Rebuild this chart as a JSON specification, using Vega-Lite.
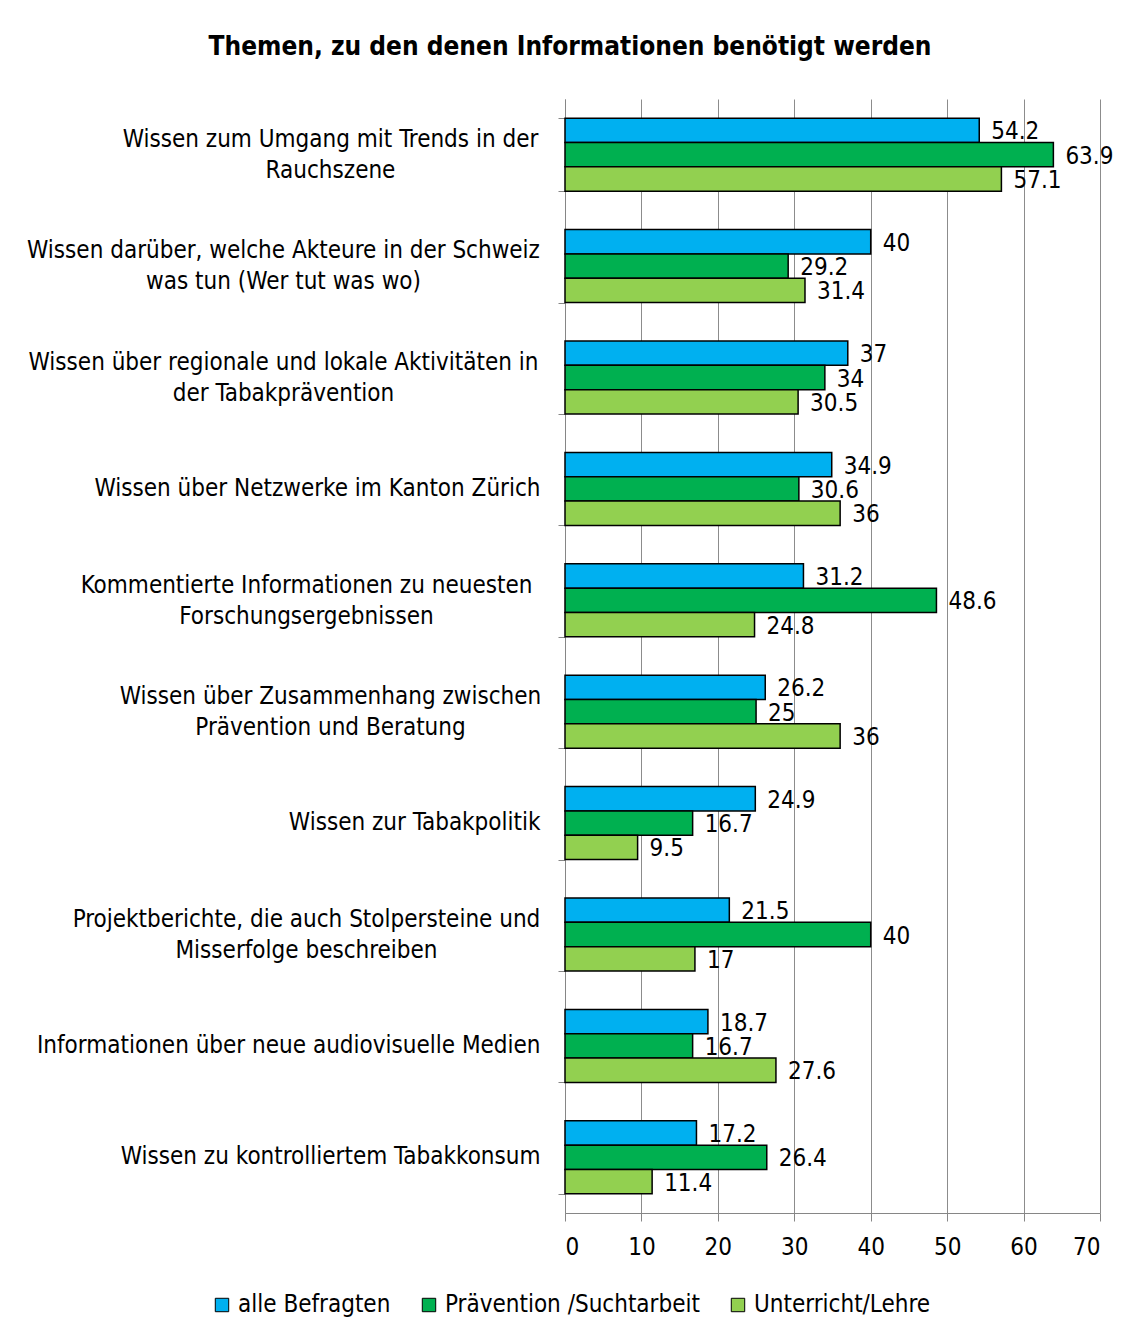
{
  "$schema": "https://vega.github.io/schema/vega-lite/v6.json",
  "autosize": {"type": "none"},
  "width": 535,
  "height": 1114,
  "padding": {"left": 565, "top": 99, "right": 39, "bottom": 124},
  "background": "white",
  "title": {
    "text": "Themen, zu den denen Informationen benötigt werden",
    "fontSize": 26,
    "fontWeight": "bold",
    "font": "DejaVu Sans Condensed",
    "color": "#000000",
    "anchor": "middle",
    "frame": "bounds",
    "offset": 27
  },
  "config": {
    "font": "DejaVu Sans Condensed",
    "view": {"stroke": null},
    "axisY": {
      "title": null,
      "labelFontSize": 24,
      "labelColor": "#000000",
      "labelLimit": 700,
      "labelLineHeight": 31,
      "labelBaseline": "middle",
      "grid": false
    }
  },
  "data": {
    "values": [
      {"cat": "Wissen zum Umgang mit Trends in der|Rauchszene", "series": "alle Befragten", "value": 54.2},
      {"cat": "Wissen zum Umgang mit Trends in der|Rauchszene", "series": "Prävention /Suchtarbeit", "value": 63.9},
      {"cat": "Wissen zum Umgang mit Trends in der|Rauchszene", "series": "Unterricht/Lehre", "value": 57.1},
      {"cat": "Wissen darüber, welche Akteure in der Schweiz|was tun (Wer tut was wo)", "series": "alle Befragten", "value": 40},
      {"cat": "Wissen darüber, welche Akteure in der Schweiz|was tun (Wer tut was wo)", "series": "Prävention /Suchtarbeit", "value": 29.2},
      {"cat": "Wissen darüber, welche Akteure in der Schweiz|was tun (Wer tut was wo)", "series": "Unterricht/Lehre", "value": 31.4},
      {"cat": "Wissen über regionale und lokale Aktivitäten in|der Tabakprävention", "series": "alle Befragten", "value": 37},
      {"cat": "Wissen über regionale und lokale Aktivitäten in|der Tabakprävention", "series": "Prävention /Suchtarbeit", "value": 34},
      {"cat": "Wissen über regionale und lokale Aktivitäten in|der Tabakprävention", "series": "Unterricht/Lehre", "value": 30.5},
      {"cat": "Wissen über Netzwerke im Kanton Zürich", "series": "alle Befragten", "value": 34.9},
      {"cat": "Wissen über Netzwerke im Kanton Zürich", "series": "Prävention /Suchtarbeit", "value": 30.6},
      {"cat": "Wissen über Netzwerke im Kanton Zürich", "series": "Unterricht/Lehre", "value": 36},
      {"cat": "Kommentierte Informationen zu neuesten|Forschungsergebnissen", "series": "alle Befragten", "value": 31.2},
      {"cat": "Kommentierte Informationen zu neuesten|Forschungsergebnissen", "series": "Prävention /Suchtarbeit", "value": 48.6},
      {"cat": "Kommentierte Informationen zu neuesten|Forschungsergebnissen", "series": "Unterricht/Lehre", "value": 24.8},
      {"cat": "Wissen über Zusammenhang zwischen|Prävention und Beratung", "series": "alle Befragten", "value": 26.2},
      {"cat": "Wissen über Zusammenhang zwischen|Prävention und Beratung", "series": "Prävention /Suchtarbeit", "value": 25},
      {"cat": "Wissen über Zusammenhang zwischen|Prävention und Beratung", "series": "Unterricht/Lehre", "value": 36},
      {"cat": "Wissen zur Tabakpolitik", "series": "alle Befragten", "value": 24.9},
      {"cat": "Wissen zur Tabakpolitik", "series": "Prävention /Suchtarbeit", "value": 16.7},
      {"cat": "Wissen zur Tabakpolitik", "series": "Unterricht/Lehre", "value": 9.5},
      {"cat": "Projektberichte, die auch Stolpersteine und|Misserfolge beschreiben", "series": "alle Befragten", "value": 21.5},
      {"cat": "Projektberichte, die auch Stolpersteine und|Misserfolge beschreiben", "series": "Prävention /Suchtarbeit", "value": 40},
      {"cat": "Projektberichte, die auch Stolpersteine und|Misserfolge beschreiben", "series": "Unterricht/Lehre", "value": 17},
      {"cat": "Informationen über neue audiovisuelle Medien", "series": "alle Befragten", "value": 18.7},
      {"cat": "Informationen über neue audiovisuelle Medien", "series": "Prävention /Suchtarbeit", "value": 16.7},
      {"cat": "Informationen über neue audiovisuelle Medien", "series": "Unterricht/Lehre", "value": 27.6},
      {"cat": "Wissen zu kontrolliertem Tabakkonsum", "series": "alle Befragten", "value": 17.2},
      {"cat": "Wissen zu kontrolliertem Tabakkonsum", "series": "Prävention /Suchtarbeit", "value": 26.4},
      {"cat": "Wissen zu kontrolliertem Tabakkonsum", "series": "Unterricht/Lehre", "value": 11.4}
    ]
  },
  "encoding": {
    "yOffset": {
      "field": "series",
      "type": "nominal",
      "sort": ["alle Befragten", "Prävention /Suchtarbeit", "Unterricht/Lehre"],
      "scale": {"domain": ["alle Befragten", "Prävention /Suchtarbeit", "Unterricht/Lehre"], "paddingInner": 0, "paddingOuter": 0}
    },
    "x": {
      "field": "value",
      "type": "quantitative",
      "scale": {"domain": [0, 70], "nice": false},
      "axis": {
        "title": null,
        "values": [0, 10, 20, 30, 40, 50, 60, 70],
        "labelFontSize": 24,
        "labelColor": "#000000",
        "labelPadding": 14,
        "tickSize": 8,
        "tickColor": "#868686",
        "domainColor": "#868686",
        "grid": true,
        "gridColor": "#8c8c8c",
        "gridWidth": 1
      }
    }
  },
  "resolve": {"axis": {"y": "independent"}},
  "layer": [
    {
      "mark": {"type": "bar", "stroke": "#000000", "strokeWidth": 1.5},
      "encoding": {
        "y": {
          "field": "cat",
          "type": "nominal",
          "sort": null,
          "scale": {"paddingInner": 0.345, "paddingOuter": 0.1725},
          "axis": {
            "orient": "left",
            "labelExpr": "indexof(datum.label, 'Forschungs') >= 0 || indexof(datum.label, 'Misserfolge') >= 0 ? split(datum.label, '|') : ''",
            "labelAlign": "center",
            "labelPadding": 252,
            "labelOffset": -15,
            "tickBand": "extent",
            "tickSize": 7,
            "tickColor": "#868686",
            "domainColor": "#868686"
          }
        },
        "color": {
          "field": "series",
          "type": "nominal",
          "sort": ["alle Befragten", "Prävention /Suchtarbeit", "Unterricht/Lehre"],
          "scale": {
            "domain": ["alle Befragten", "Prävention /Suchtarbeit", "Unterricht/Lehre"],
            "range": ["#00B0F0", "#00B050", "#92D050"]
          },
          "legend": {
            "title": null,
            "orient": "none",
            "direction": "horizontal",
            "legendX": -355,
            "legendY": 1194,
            "symbolType": "square",
            "symbolSize": 180,
            "symbolStrokeColor": "#000000",
            "symbolStrokeWidth": 1,
            "symbolOpacity": 1,
            "labelFontSize": 24,
            "labelColor": "#000000",
            "labelLimit": 400,
            "labelOffset": 4,
            "columnPadding": 26
          }
        }
      }
    },
    {
      "transform": [{"filter": "datum.series === 'alle Befragten'"}],
      "mark": {"type": "text", "align": "left", "baseline": "middle", "dx": 12, "dy": 2, "fontSize": 24, "color": "#000000"},
      "encoding": {
        "y": {
          "field": "cat",
          "type": "nominal",
          "sort": null,
          "axis": {
            "orient": "left",
            "labelExpr": "indexof(datum.label, '|') >= 0 ? '' : datum.label",
            "labelAlign": "right",
            "labelPadding": 25,
            "ticks": false,
            "domain": false
          }
        },
        "text": {"field": "value", "type": "nominal"}
      }
    },
    {
      "transform": [{"filter": "datum.series === 'Prävention /Suchtarbeit'"}],
      "mark": {"type": "text", "align": "left", "baseline": "middle", "dx": 12, "dy": 2, "fontSize": 24, "color": "#000000"},
      "encoding": {
        "y": {
          "field": "cat",
          "type": "nominal",
          "sort": null,
          "axis": {
            "orient": "left",
            "labelExpr": "indexof(datum.label, 'Wer tut') >= 0 || indexof(datum.label, 'Tabakprävention') >= 0 ? split(datum.label, '|') : ''",
            "labelAlign": "center",
            "labelPadding": 282,
            "labelOffset": -15,
            "ticks": false,
            "domain": false
          }
        },
        "text": {"field": "value", "type": "nominal"}
      }
    },
    {
      "transform": [{"filter": "datum.series === 'Unterricht/Lehre'"}],
      "mark": {"type": "text", "align": "left", "baseline": "middle", "dx": 12, "dy": 2, "fontSize": 24, "color": "#000000"},
      "encoding": {
        "y": {
          "field": "cat",
          "type": "nominal",
          "sort": null,
          "axis": {
            "orient": "left",
            "labelExpr": "indexof(datum.label, 'Rauchszene') >= 0 || indexof(datum.label, 'Beratung') >= 0 ? split(datum.label, '|') : ''",
            "labelAlign": "center",
            "labelPadding": 235,
            "labelOffset": -15,
            "ticks": false,
            "domain": false
          }
        },
        "text": {"field": "value", "type": "nominal"}
      }
    }
  ]
}
